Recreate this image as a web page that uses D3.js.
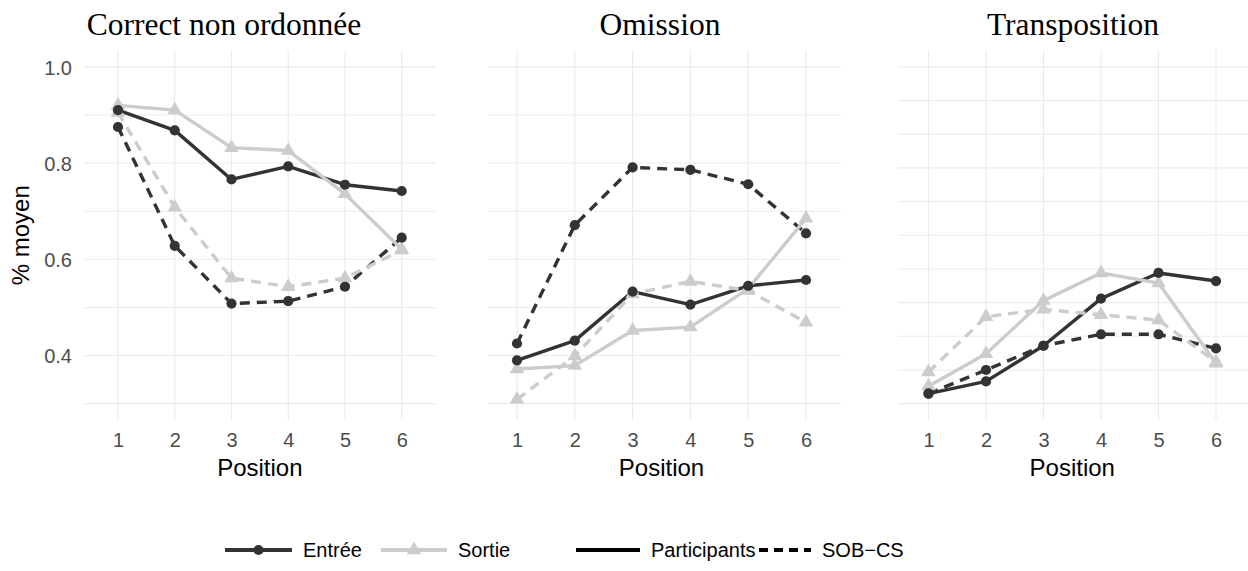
<!DOCTYPE html>
<html>
<head>
<meta charset="utf-8">
<script src="https://cdn.jsdelivr.net/npm/d3@7"></script>
<style>
  body { margin: 0; background: #ffffff; }
  svg { display: block; }
</style>
</head>
<body>
<svg id="chart" width="1248" height="571"></svg>
<script>
// ---- data -------------------------------------------------------------
const positions = [1, 2, 3, 4, 5, 6];
const panelTitles = ["Correct non ordonnée", "Omission", "Transposition"];
const directions = ["Entrée", "Sortie"];
const sources = ["Participants", "SOB−CS"];
const yTickLabels = ["0.4", "0.6", "0.8", "1.0"];

// Correct non ordonnée
const correctEntreeParticipants = [0.910, 0.868, 0.766, 0.793, 0.755, 0.742];
const correctEntreeSob          = [0.875, 0.628, 0.508, 0.513, 0.543, 0.645];
const correctSortieParticipants = [0.920, 0.910, 0.832, 0.826, 0.736, 0.621];
const correctSortieSob          = [0.905, 0.708, 0.561, 0.543, 0.561, 0.619];

// Omission
const omissionEntreeParticipants = [0.090, 0.131, 0.233, 0.206, 0.245, 0.257];
const omissionEntreeSob          = [0.125, 0.371, 0.491, 0.486, 0.456, 0.354];
const omissionSortieParticipants = [0.072, 0.079, 0.152, 0.159, 0.239, 0.385];
const omissionSortieSob          = [0.009, 0.099, 0.228, 0.254, 0.235, 0.169];

// Transposition
const transEntreeParticipants = [0.015, 0.033, 0.086, 0.156, 0.194, 0.182];
const transEntreeSob          = [0.015, 0.050, 0.086, 0.103, 0.103, 0.082];
const transSortieParticipants = [0.026, 0.074, 0.153, 0.194, 0.179, 0.060];
const transSortieSob          = [0.047, 0.129, 0.140, 0.132, 0.124, 0.062];

// ---- styling ----------------------------------------------------------
const dirColor = { "Entrée": "#333333", "Sortie": "#cccccc" };
const srcDash = { "Participants": null, "SOB−CS": "10,7" };
const SANS = "'Liberation Sans', Arial, Helvetica, sans-serif";
const SERIF = "'Liberation Serif', 'Times New Roman', serif";
const GRID = "#ebebeb";
const LINE_W = 3.4, DOT_R = 5.1, TRI_SIZE = 92;

function seriesFor(e, eS, s, sS) {
  return [
    { dir: "Entrée", src: "Participants", values: e },
    { dir: "Entrée", src: "SOB−CS", values: eS },
    { dir: "Sortie", src: "Participants", values: s },
    { dir: "Sortie", src: "SOB−CS", values: sS }
  ];
}

const panels = [
  { title: panelTitles[0], limits: [0.3, 1.0], step: 0.1, titleX: 224,
    left: 84, right: 436, x1: 118, x6: 401.7,
    series: seriesFor(correctEntreeParticipants, correctEntreeSob, correctSortieParticipants, correctSortieSob) },
  { title: panelTitles[1], limits: [0.0, 0.7], step: 0.1, titleX: 660,
    left: 488, right: 841, x1: 517, x6: 806,
    series: seriesFor(omissionEntreeParticipants, omissionEntreeSob, omissionSortieParticipants, omissionSortieSob) },
  { title: panelTitles[2], limits: [0.0, 0.5], step: 0.05, titleX: 1073,
    left: 898, right: 1248, x1: 928.5, x6: 1216,
    series: seriesFor(transEntreeParticipants, transEntreeSob, transSortieParticipants, transSortieSob) }
];

const PANEL_TOP = 50, PANEL_BOTTOM = 420.5;
const svg = d3.select("#chart");

panels.forEach((p, pi) => {
  const span = p.limits[1] - p.limits[0];
  const y = d3.scaleLinear()
    .domain([p.limits[0] - 0.05 * span, p.limits[1] + 0.05 * span])
    .range([PANEL_BOTTOM, PANEL_TOP]);
  const x = d3.scalePoint().domain(positions).range([p.x1, p.x6]);

  const g = svg.append("g");

  // grid
  const nBreaks = Math.round(span / p.step);
  const breaks = d3.range(nBreaks + 1).map(i => p.limits[0] + i * p.step);
  g.append("g").selectAll("line").data(breaks).join("line")
    .attr("x1", p.left).attr("x2", p.right)
    .attr("y1", d => y(d)).attr("y2", d => y(d))
    .attr("stroke", GRID).attr("stroke-width", 1.1);
  g.append("g").selectAll("line").data(positions).join("line")
    .attr("x1", d => x(d)).attr("x2", d => x(d))
    .attr("y1", PANEL_TOP).attr("y2", PANEL_BOTTOM)
    .attr("stroke", GRID).attr("stroke-width", 1.1);

  // x axis labels
  const xAxis = d3.axisBottom(x).tickSize(0).tickPadding(0);
  const xa = g.append("g").attr("transform", `translate(0,${PANEL_BOTTOM})`).call(xAxis);
  xa.select(".domain").remove();
  xa.selectAll("text")
    .attr("y", 26).attr("dy", null)
    .attr("font-family", SANS).attr("font-size", 20).attr("fill", "#4d4d4d");

  // y axis labels (first panel only)
  if (pi === 0) {
    const yAxis = d3.axisLeft(y)
      .tickValues(yTickLabels.map(Number))
      .tickFormat((d, i) => yTickLabels[i])
      .tickSize(0).tickPadding(0);
    const ya = g.append("g").attr("transform", "translate(72,0)").call(yAxis);
    ya.select(".domain").remove();
    ya.selectAll("text")
      .attr("x", 0).attr("dy", "0.36em")
      .attr("font-family", SANS).attr("font-size", 20).attr("fill", "#4d4d4d");
  }

  // lines
  const line = d3.line().x((d, i) => x(positions[i])).y(d => y(d));
  g.append("g").selectAll("path").data(p.series).join("path")
    .attr("d", s => line(s.values))
    .attr("fill", "none")
    .attr("stroke", s => dirColor[s.dir])
    .attr("stroke-width", LINE_W)
    .attr("stroke-dasharray", s => srcDash[s.src])
    .attr("stroke-linejoin", "round");

  // points: triangles (Sortie) underneath circles (Entrée)
  const order = [p.series[2], p.series[3], p.series[0], p.series[1]];
  order.forEach(s => {
    const pts = s.values.map((v, i) => ({ x: x(positions[i]), y: y(v) }));
    if (s.dir === "Entrée") {
      g.append("g").selectAll("circle").data(pts).join("circle")
        .attr("cx", d => d.x).attr("cy", d => d.y).attr("r", DOT_R)
        .attr("fill", dirColor[s.dir]);
    } else {
      g.append("g").selectAll("path").data(pts).join("path")
        .attr("transform", d => `translate(${d.x},${d.y})`)
        .attr("d", d3.symbol(d3.symbolTriangle, TRI_SIZE))
        .attr("fill", dirColor[s.dir]);
    }
  });

  // titles
  svg.append("text")
    .attr("x", p.titleX).attr("y", 35)
    .attr("text-anchor", "middle")
    .attr("font-family", SERIF).attr("font-size", 31.5).attr("fill", "#000")
    .text(p.title);

  svg.append("text")
    .attr("x", (p.x1 + p.x6) / 2).attr("y", 476)
    .attr("text-anchor", "middle")
    .attr("font-family", SANS).attr("font-size", 24).attr("fill", "#000")
    .text("Position");
});

// y axis title
svg.append("text")
  .attr("transform", `translate(29,${(PANEL_TOP + PANEL_BOTTOM) / 2}) rotate(-90)`)
  .attr("text-anchor", "middle")
  .attr("font-family", SANS).attr("font-size", 24).attr("fill", "#000")
  .text("% moyen");

// ---- legend -----------------------------------------------------------
const LEG_Y = 550;
const legendItems = [
  { label: directions[0], x: 225, w: 67, color: dirColor["Entrée"], dash: null, mark: "circle" },
  { label: directions[1], x: 381, w: 66, color: dirColor["Sortie"], dash: null, mark: "triangle" },
  { label: sources[0], x: 576, w: 64, color: "#000000", dash: srcDash["Participants"], mark: null },
  { label: sources[1], x: 759, w: 52, color: "#000000", dash: "9,6", mark: null }
];
const leg = svg.append("g");
legendItems.forEach(it => {
  leg.append("line")
    .attr("x1", it.x).attr("x2", it.x + it.w)
    .attr("y1", LEG_Y).attr("y2", LEG_Y)
    .attr("stroke", it.color).attr("stroke-width", 4.2)
    .attr("stroke-dasharray", it.dash);
  if (it.mark === "circle") {
    leg.append("circle").attr("cx", it.x + it.w / 2).attr("cy", LEG_Y).attr("r", DOT_R).attr("fill", it.color);
  } else if (it.mark === "triangle") {
    leg.append("path").attr("transform", `translate(${it.x + it.w / 2},${LEG_Y})`)
      .attr("d", d3.symbol(d3.symbolTriangle, TRI_SIZE)).attr("fill", it.color);
  }
  leg.append("text")
    .attr("x", it.x + it.w + 11).attr("y", LEG_Y).attr("dy", "0.36em")
    .attr("font-family", SANS).attr("font-size", 20).attr("fill", "#000")
    .text(it.label);
});
</script>
</body>
</html>
